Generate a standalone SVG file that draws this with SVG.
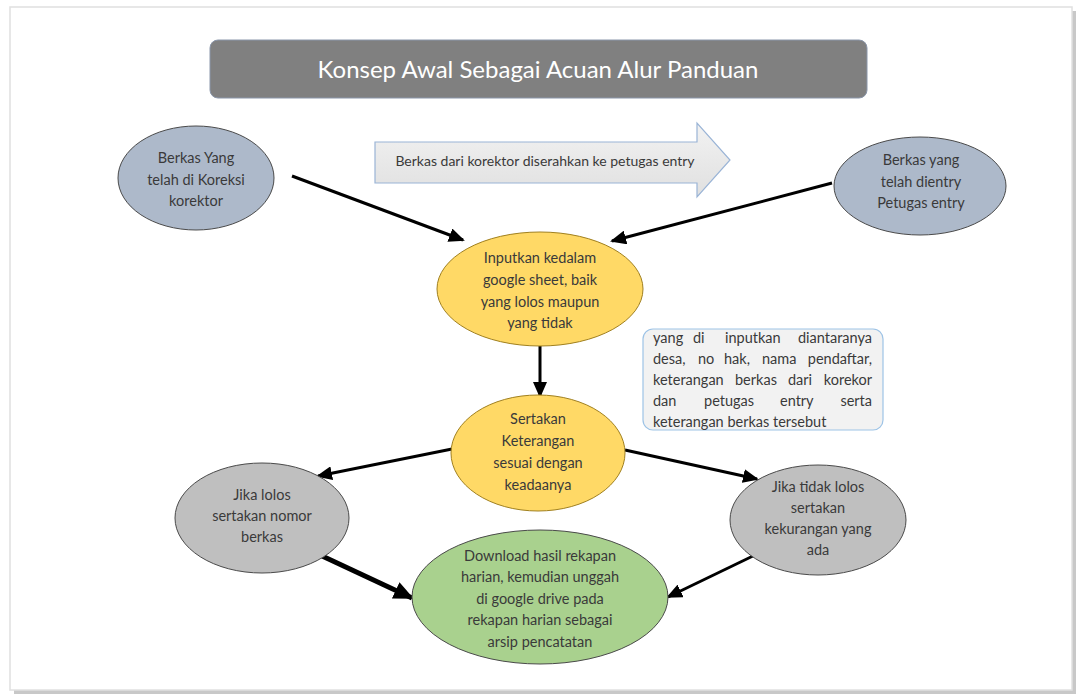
<svg xmlns="http://www.w3.org/2000/svg" width="1080" height="694" viewBox="0 0 1080 694">
<style>
  .t { font-family: Lato, "Open Sans", "Liberation Sans", sans-serif; fill: #3a3a3a; font-size: 14.5px; text-anchor: middle; }
  .n { font-family: Lato, "Open Sans", "Liberation Sans", sans-serif; fill: #3a3a3a; font-size: 14.5px; }
  .blue { fill: #adb9ca; stroke: #4a4a4a; stroke-width: 1; }
  .yel { fill: #ffd966; stroke: #a08020; stroke-width: 1; }
  .gray { fill: #bfbfbf; stroke: #4a4a4a; stroke-width: 1; }
  .green { fill: #a9d18e; stroke: #4a4a4a; stroke-width: 1; }
  .c { stroke: #000; stroke-width: 3; fill: none; marker-end: url(#ah); }
</style>
<defs>
  <marker id="ah" markerUnits="userSpaceOnUse" markerWidth="16" markerHeight="14" refX="14" refY="7" orient="auto">
    <path d="M0,0 L16,7 L0,14 Z" fill="#000"/>
  </marker>
  <marker id="ahb" markerUnits="userSpaceOnUse" markerWidth="20" markerHeight="18" refX="18" refY="9" orient="auto">
    <path d="M0,0 L20,9 L0,18 Z" fill="#000"/>
  </marker>
  <linearGradient id="ag" x1="0" y1="0" x2="0" y2="1">
    <stop offset="0" stop-color="#f2f2f2"/>
    <stop offset="1" stop-color="#e0e0e0"/>
  </linearGradient>
</defs>
<rect width="1080" height="694" fill="#ffffff"/>
<rect x="14" y="11" width="1062" height="683" fill="#c8c8c8"/>
<rect x="10" y="7" width="1062" height="683" fill="#ffffff" stroke="#e0e0e0" stroke-width="1.5"/>

<g id="title">
  <rect x="210" y="40" width="657" height="58" rx="8" fill="#808080" stroke="#8a96aa" stroke-width="1"/>
  <text x="538" y="78" style="font-family: Lato, 'Open Sans', 'Liberation Sans', sans-serif; font-size: 24px; fill: #ffffff; text-anchor: middle;">Konsep Awal Sebagai Acuan Alur Panduan</text>
</g>

<g id="handover-arrow">
  <path d="M375,142 L697,142 L697,123 L730,160 L697,197 L697,183 L375,183 Z" fill="url(#ag)" stroke="#9ab4d6" stroke-width="1.2"/>
  <text class="t" x="545" y="166" style="font-size:14px">Berkas dari korektor diserahkan ke petugas entry</text>
</g>

<g id="connectors">
  <line class="c" x1="292" y1="176" x2="463" y2="240"/>
  <line class="c" x1="832" y1="183" x2="612" y2="241"/>
  <line class="c" x1="540" y1="346" x2="540" y2="396"/>
  <line class="c" x1="452" y1="449" x2="318" y2="476"/>
  <line class="c" x1="625" y1="450" x2="757" y2="479"/>
  <line class="c" x1="320" y1="555" x2="412" y2="598" style="stroke-width:5; marker-end: url(#ahb)"/>
  <line class="c" x1="755" y1="555" x2="668" y2="597"/>
</g>

<g id="node-koreksi">
  <ellipse class="blue" cx="196" cy="178" rx="78" ry="52"/>
  <text class="t" x="196" y="163">Berkas Yang</text>
  <text class="t" x="196" y="185">telah di Koreksi</text>
  <text class="t" x="196" y="206">korektor</text>
</g>

<g id="node-entry">
  <ellipse class="blue" cx="920" cy="186" rx="86" ry="49"/>
  <text class="t" x="921" y="165">Berkas yang</text>
  <text class="t" x="921" y="187">telah dientry</text>
  <text class="t" x="921" y="208">Petugas entry</text>
</g>

<g id="node-input">
  <ellipse class="yel" cx="540" cy="289" rx="103" ry="57"/>
  <text class="t" x="540" y="263">Inputkan kedalam</text>
  <text class="t" x="540" y="285">google sheet, baik</text>
  <text class="t" x="540" y="307">yang lolos maupun</text>
  <text class="t" x="540" y="328">yang tidak</text>
</g>

<g id="node-note">
  <rect x="643" y="329" width="240" height="101" rx="10" fill="#f2f2f2" stroke="#9dc3e6" stroke-width="1.2"/>
  <text class="n" y="343"><tspan x="653">yang</tspan><tspan x="693">di</tspan><tspan x="725">inputkan</tspan><tspan x="872" text-anchor="end">diantaranya</tspan></text>
  <text class="n" y="364"><tspan x="653">desa,</tspan><tspan x="698">no</tspan><tspan x="724">hak,</tspan><tspan x="762">nama</tspan><tspan x="872" text-anchor="end">pendaftar,</tspan></text>
  <text class="n" y="385"><tspan x="653">keterangan</tspan><tspan x="735">berkas</tspan><tspan x="788">dari</tspan><tspan x="872" text-anchor="end">korekor</tspan></text>
  <text class="n" y="406"><tspan x="653">dan</tspan><tspan x="704">petugas</tspan><tspan x="780">entry</tspan><tspan x="872" text-anchor="end">serta</tspan></text>
  <text class="n" x="653" y="427">keterangan berkas tersebut</text>
</g>

<g id="node-sertakan">
  <ellipse class="yel" cx="538" cy="453" rx="87" ry="58"/>
  <text class="t" x="538" y="424">Sertakan</text>
  <text class="t" x="538" y="446">Keterangan</text>
  <text class="t" x="538" y="468">sesuai dengan</text>
  <text class="t" x="538" y="490">keadaanya</text>
</g>

<g id="node-lolos">
  <ellipse class="gray" cx="262" cy="518" rx="87" ry="55"/>
  <text class="t" x="262" y="500">Jika lolos</text>
  <text class="t" x="262" y="521">sertakan nomor</text>
  <text class="t" x="262" y="542">berkas</text>
</g>

<g id="node-tidak-lolos">
  <ellipse class="gray" cx="818" cy="520" rx="88" ry="55"/>
  <text class="t" x="818" y="492">Jika tidak lolos</text>
  <text class="t" x="818" y="513">sertakan</text>
  <text class="t" x="818" y="534">kekurangan yang</text>
  <text class="t" x="818" y="555">ada</text>
</g>

<g id="node-download">
  <ellipse class="green" cx="540" cy="597" rx="128" ry="67"/>
  <text class="t" x="540" y="561">Download hasil rekapan</text>
  <text class="t" x="540" y="582">harian, kemudian unggah</text>
  <text class="t" x="540" y="604">di google drive pada</text>
  <text class="t" x="540" y="625">rekapan harian sebagai</text>
  <text class="t" x="540" y="647">arsip pencatatan</text>
</g>
</svg>
